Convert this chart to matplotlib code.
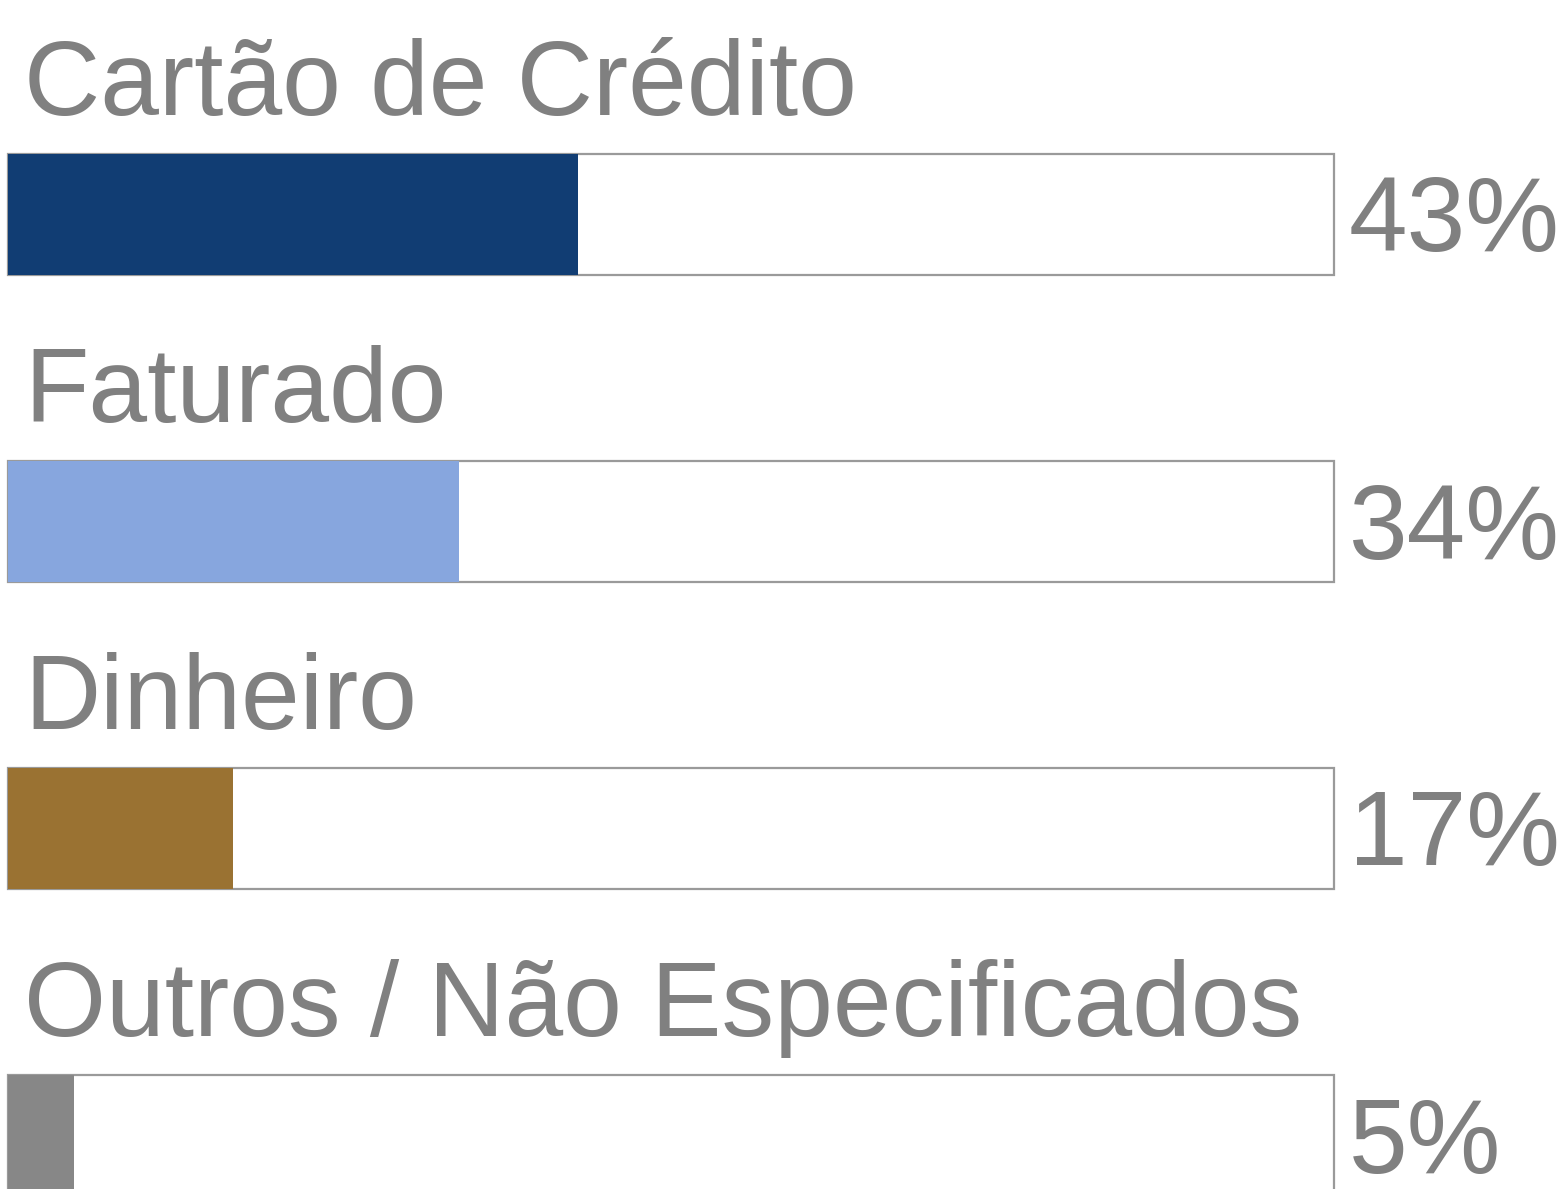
import matplotlib
matplotlib.use("Agg")
from matplotlib import pyplot as plt

# data
categories = ["Cartão de Crédito", "Faturado", "Dinheiro", "Outros / Não Especificados"]
shares = [43, 34, 17, 5]
pct_labels = ["43%", "34%", "17%", "5%"]
bar_colors = ["#113d73", "#87a6de", "#9a7232", "#878787"]

plt.rcParams['font.family'] = ['Liberation Sans', 'DejaVu Sans']

W, H = 1567, 1189
fig = plt.figure(figsize=(W / 100, H / 100), dpi=100)
# axes spans the bar track horizontally, whole height vertically (pixel rows)
ax = fig.add_axes([8 / W, 0, 1326 / W, 1])
ax.set_xlim(0, 100)
ax.set_ylim(H, 0)
ax.axis('off')

row_top = 154
row_step = 307
bar_h = 121
txt_col = "#808080"

for i, (cat, val, lab, col) in enumerate(zip(categories, shares, pct_labels, bar_colors)):
    top = row_top + i * row_step
    ctr = top + bar_h / 2
    # empty track with border
    ax.barh(ctr, 100, height=bar_h, left=0, color='white',
            edgecolor='#9a9a9a', linewidth=1.6, clip_on=False)
    # filled share
    ax.barh(ctr, val, height=bar_h, left=0, color=col, linewidth=0, clip_on=False)
    ax.text(1.2, top - 39, cat, fontsize=76, color=txt_col,
            ha='left', va='baseline', clip_on=False)
    ax.text(101.1, ctr + 37, lab, fontsize=76, color=txt_col,
            ha='left', va='baseline', clip_on=False)

fig.savefig("out.png", dpi=100)
